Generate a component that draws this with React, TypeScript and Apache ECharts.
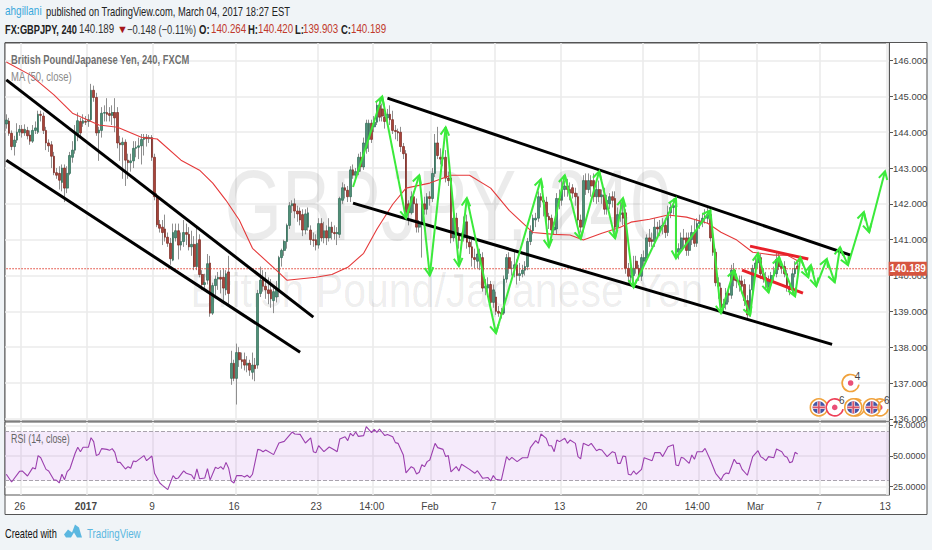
import React, { useEffect, useRef } from "react";
import * as echarts from "echarts";

const BAR_SLOTS = 334;
const tickBars = [6, 31, 56, 87, 118, 139, 161, 185, 210, 241, 262, 284, 308, 333];
const tickLabels = ["26", "2017", "9", "16", "23", "14:00", "Feb", "7", "13", "20", "14:00", "Mar", "7", "13"];
const priceTicks = [136, 137, 138, 139, 140, 141, 142, 143, 144, 145, 146];
const rsiTicks = [25, 50, 75];
const lastPrice = 140.189;

// [open, close, low, high]
const candlesDec = [
[144.23,144.34,144.1,144.5],[144.31,143.97,143.9,144.4],[143.97,143.6,143.5,144.05],[143.6,143.78,143.35,143.9],[143.78,144.0,143.7,144.25],[144.0,144.08,143.9,144.2],[144.08,143.98,143.85,144.2],[143.98,144.08,143.9,144.22],[144.05,143.9,143.8,144.15],[143.92,143.75,143.65,144.05],
[143.75,144.05,143.7,144.2],[144.05,144.12,143.95,144.3],[144.0,144.5,143.95,144.6],[144.5,144.47,144.3,144.6],[144.45,144.05,143.95,144.55],[144.05,143.7,143.5,144.15],[143.7,143.62,143.45,143.8],[143.65,143.33,143.0,143.75],[143.33,142.87,142.8,143.45],[142.87,142.8,142.7,143.0],
[142.85,142.66,142.4,143.05],[142.6,143.0,142.35,143.1],[143.0,142.44,142.05,143.1],[142.44,142.85,142.3,143.05],[142.85,143.35,142.8,143.45],[143.3,143.5,143.15,143.75],[143.5,144.0,143.4,144.2],[143.95,144.32,143.75,144.55],[144.3,143.98,143.85,144.4],[144.25,144.32,144.15,144.5],
];
const candlesJan1 = [
[144.3,144.28,144.2,144.45],[144.3,144.35,144.15,144.5],[144.35,145.17,144.3,145.35],[145.17,144.97,144.85,145.3],[144.97,143.98,143.9,145.1],[143.98,144.06,143.2,144.15],[144.05,144.53,143.85,144.7],[144.53,144.55,144.3,144.75],[144.55,144.5,144.3,144.95],[144.52,144.47,144.3,144.7],
[144.47,144.55,144.2,144.75],[144.55,144.4,144.0,144.95],[144.55,143.7,143.55,144.7],[143.7,143.65,143.2,143.9],[143.65,143.72,142.7,143.85],[143.72,143.22,142.5,143.8],[143.22,143.15,142.7,143.4],[143.15,143.2,142.9,143.4],[143.2,143.55,143.0,143.75],[143.55,143.58,143.3,143.75],
[143.58,143.62,143.25,143.85],[143.62,143.8,143.1,143.95],[143.8,143.86,143.35,143.95],[143.86,143.82,143.6,143.95],[143.82,143.85,143.7,143.92],[143.85,143.3,143.2,143.92],[143.3,142.2,142.1,143.4],[142.2,141.42,141.35,142.3],[141.42,141.32,141.2,141.55],[141.35,141.2,140.85,141.55],
];
const candlesJan2 = [
[141.3,141.07,140.95,141.7],[141.07,140.9,140.8,141.2],[140.9,140.47,140.3,141.05],[140.43,141.2,140.4,141.45],[141.05,141.25,140.95,141.45],[141.25,140.85,140.45,141.45],[140.85,140.95,140.7,141.2],[140.95,141.2,140.8,141.55],[141.2,141.15,140.85,141.45],[141.15,140.8,140.7,141.35],
[140.8,140.87,140.55,141.25],[140.87,140.25,140.15,141.1],[140.25,140.9,140.15,141.35],[141.0,140.03,139.95,141.15],[140.03,139.75,139.6,140.15],[139.75,139.8,139.6,140.05],[139.87,140.33,139.75,140.6],[140.35,138.95,138.85,140.55],[138.95,139.72,138.9,139.8],[139.72,139.9,139.45,140.0],
[139.9,139.95,139.6,140.1],[139.95,139.9,139.5,140.15],[139.95,139.65,139.3,140.2],[139.6,140.05,139.45,140.15],[140.1,139.5,139.2,140.55],
];
const candlesJan3 = [
[137.13,137.55,136.95,137.9],[137.55,137.13,137.05,137.65],[137.13,137.85,136.4,138.1],[137.85,137.65,137.45,138.0],[137.65,137.6,137.4,137.85],[137.65,137.5,137.35,137.85],[137.5,137.55,137.3,137.75],[137.55,137.36,137.2,137.65],[137.3,137.5,137.1,137.85],[137.5,137.4,137.05,137.7],
[137.5,139.5,137.4,139.6],[139.5,139.87,139.4,140.25],[139.9,139.7,139.55,140.15],[139.7,139.6,139.35,140.1],[139.6,139.5,139.2,139.95],[139.6,139.35,139.1,139.9],[139.3,139.55,138.95,139.7],[139.4,139.62,139.25,139.85],[139.6,140.5,139.4,140.55],[140.5,140.7,140.25,140.75],
[140.7,140.95,140.55,141.0],[140.95,141.4,140.75,141.45],[141.4,141.95,141.3,142.05],[141.95,142.0,141.75,142.1],[142.0,141.8,141.6,142.15],[141.8,141.72,141.5,141.95],[141.8,141.55,141.4,141.9],[141.7,141.27,141.1,141.85],[141.27,141.72,141.15,141.85],[141.35,141.75,141.25,141.9],
[141.27,141.0,140.85,141.4],[141.0,140.98,140.8,141.2],[141.0,140.85,140.7,141.15],[140.85,141.45,140.75,141.6],[141.45,141.05,140.95,141.6],[141.05,141.25,140.9,141.5],[141.25,141.05,140.85,141.4],[141.05,141.35,140.95,141.6],[141.35,141.2,141.0,141.5],[141.2,141.17,141.0,141.4],
[141.17,141.2,140.85,141.35],[141.15,142.15,141.05,142.2],
];
const candlesJan4 = [
[142.1,142.45,142.0,142.6],[142.45,142.38,142.15,142.55],[142.38,142.2,142.05,142.5],[142.2,142.95,142.05,143.05],[142.95,142.8,142.7,143.1],[142.8,142.9,142.65,143.0],[142.9,143.3,142.8,143.4],[143.3,143.03,142.9,143.45],[143.03,143.7,142.95,143.85],[143.55,144.25,143.4,144.35],
[143.8,144.25,143.45,144.35],[144.25,143.8,143.7,144.35],[144.15,144.28,144.0,144.45],[144.28,144.75,144.2,144.85],[144.75,144.42,144.3,144.95],[144.65,144.45,144.3,144.8],[144.42,144.3,144.1,144.55],[144.4,144.5,144.3,144.65],[144.5,144.35,144.2,144.75],[144.35,144.05,143.95,144.6],
[144.05,144.02,143.8,144.2],[144.02,143.98,143.75,144.1],[144.0,143.6,143.45,144.15],[143.6,143.4,143.25,143.7],[143.4,141.7,141.6,143.5],[142.0,141.75,141.4,142.1],[141.75,142.2,141.7,142.35],[142.2,142.0,141.75,142.35],[142.0,141.35,141.2,142.15],[141.35,141.45,141.2,141.55],
[141.45,142.0,140.5,142.15],[142.0,141.85,141.7,142.2],[141.85,142.2,141.7,142.3],[142.2,142.15,141.95,142.35],[142.15,142.85,142.05,143.0],
];
const candlesFeb1 = [
[142.85,143.7,142.75,143.95],[143.7,143.35,143.25,144.15],[143.3,143.25,143.1,143.55],[143.25,143.3,143.05,143.45],[143.3,142.72,142.6,143.5],[142.72,142.65,142.5,142.9],[142.72,141.05,140.9,142.85],[141.05,141.6,140.95,141.75],[141.6,141.12,141.0,141.75],[141.12,140.98,140.75,141.35],
[140.98,141.0,140.8,141.2],[141.05,141.5,140.95,141.65],[141.5,140.93,140.75,141.7],[140.93,140.8,140.6,141.1],[140.8,140.5,140.25,141.0],[140.5,140.45,140.2,140.75],[140.4,140.6,140.2,140.8],[140.45,140.6,140.15,140.75],[140.5,139.65,139.55,140.65],[139.65,139.7,139.45,139.9],
[139.65,139.75,139.4,139.95],[139.75,139.25,139.1,139.85],[139.25,139.6,139.1,139.75],[139.4,139.0,138.9,139.55],[139.0,138.95,138.85,139.15],[138.97,138.92,138.8,139.1],[138.95,139.9,138.9,140.0],[139.9,140.5,139.8,140.6],[140.5,140.2,140.05,140.65],[140.2,140.2,140.0,140.4],
[140.2,140.3,139.95,140.7],[140.3,140.0,139.75,140.45],[140.0,140.05,139.85,140.35],[140.05,140.15,139.95,140.3],[140.15,140.25,140.0,140.4],[140.25,140.95,140.15,141.05],[140.95,141.25,140.85,141.4],[141.25,141.6,141.15,141.7],[141.55,141.6,141.35,141.75],[141.6,142.2,141.5,142.35],
];
const candlesFeb2 = [
[142.2,142.1,141.9,142.3],[142.1,142.05,141.65,142.2],[142.05,141.65,141.5,142.2],[141.65,141.55,141.3,141.75],[141.6,141.27,141.1,141.7],[141.27,141.35,141.15,141.5],[141.3,142.15,141.15,142.3],[142.15,142.1,141.85,142.4],[142.1,142.4,141.95,142.7],[142.4,142.5,142.2,142.65],
[142.5,142.4,142.2,142.7],[142.4,142.3,142.1,142.6],[142.45,142.3,142.15,142.55],[142.3,142.2,141.95,142.45],[142.2,141.55,141.4,142.3],[141.55,141.35,141.2,141.7],[141.35,142.65,141.3,142.8],[142.65,142.4,142.25,142.85],[142.4,142.65,142.3,142.85],[142.65,142.5,142.2,142.8],
[142.65,142.2,142.05,142.85],[142.2,142.4,142.0,142.55],[142.4,142.2,142.05,142.65],[142.2,142.25,142.0,142.4],[142.25,141.85,141.7,142.45],[141.85,142.1,141.7,142.25],[142.0,142.2,141.85,142.3],[142.2,142.1,141.9,142.35],[142.15,141.35,141.2,142.35],[141.35,141.7,141.3,141.9],
[141.7,141.75,141.5,142.05],[141.75,141.6,141.4,142.0],[141.75,140.2,140.05,141.85],[140.2,139.98,139.8,140.35],[139.95,140.0,139.75,140.25],[140.0,140.2,139.8,140.55],[140.4,140.2,140.05,140.55],[140.2,139.98,139.85,140.3],[139.98,140.5,139.85,140.6],[140.4,140.5,140.25,140.7],
];
const candlesFeb3 = [
[140.5,141.05,140.4,141.15],[141.05,140.95,140.8,141.3],[141.0,140.95,140.8,141.2],[140.95,141.35,140.8,141.6],[141.35,141.3,141.1,141.5],[141.3,141.38,141.1,141.55],[141.38,141.4,141.15,141.6],[141.4,141.2,141.05,141.6],[141.2,141.75,141.1,141.95],[141.75,141.9,141.6,142.05],
[141.9,141.95,141.7,142.15],[141.95,140.65,140.5,142.05],[140.65,140.75,140.45,140.9],[140.75,141.05,140.65,141.2],[141.05,141.0,140.8,141.3],[141.05,140.7,140.55,141.2],[140.7,141.05,140.55,141.2],[141.0,141.2,140.85,141.4],[141.2,140.9,140.8,141.55],[140.9,141.45,140.8,141.6],
[141.45,141.5,141.3,141.7],[141.5,141.6,141.35,141.75],[141.6,141.65,141.45,141.85],[141.6,141.7,141.45,141.9],[141.7,141.05,140.95,141.85],[141.05,140.65,140.55,141.15],[140.65,139.8,139.7,140.75],[139.8,139.7,139.35,139.95],[139.65,139.1,139.0,139.8],[139.1,139.2,138.95,139.35],
];
const candlesMar = [
[139.2,139.5,139.05,139.65],[139.5,139.45,139.25,139.6],[139.45,140.15,139.35,140.3],[140.15,139.87,139.7,140.35],[139.87,139.85,139.65,140.05],[139.85,139.75,139.55,140.0],[139.85,139.7,139.5,140.0],[139.75,139.3,139.15,139.9],[139.3,138.9,138.8,139.45],[138.9,139.6,138.85,139.75],
[139.6,140.2,139.5,140.3],[140.2,140.35,140.05,140.5],[140.35,140.5,140.2,140.65],[140.5,140.05,139.9,140.6],[140.05,139.95,139.8,140.2],[139.95,139.8,139.6,140.1],[139.7,139.85,139.55,140.0],[139.8,140.0,139.7,140.1],[140.0,140.05,139.85,140.25],[140.05,140.45,139.95,140.65],
[140.45,140.25,140.15,140.6],[140.25,140.2,140.05,140.4],[140.25,140.05,139.95,140.4],[140.05,139.7,139.55,140.15],[139.7,139.6,139.45,139.8],[139.6,140.05,139.5,140.2],[140.05,140.2,139.95,140.4],[140.264,140.189,139.903,140.42],
];
const candles = [...candlesDec, ...candlesJan1, ...candlesJan2, ...candlesJan3, ...candlesJan4, ...candlesFeb1, ...candlesFeb2, ...candlesFeb3, ...candlesMar];

const maBars = [0, 9, 18, 25, 35, 42, 51, 57, 66, 73, 78, 83, 88, 93, 102, 106, 117, 123, 129, 135, 140, 146, 151, 160, 168, 175, 183, 190, 199, 207, 213, 218, 225, 232, 236, 243, 250, 257, 265, 270, 276, 282, 290, 295, 300];
const maValues = [145.96, 145.6, 145.04, 144.53, 144.2, 144.14, 143.86, 143.81, 143.22, 142.94, 142.58, 142.1, 141.55, 140.76, 140.15, 139.87, 139.95, 140.03, 140.23, 140.62, 141.29, 141.99, 142.44, 142.58, 142.8, 142.8, 142.44, 141.82, 141.2, 141.15, 141.13, 140.99, 141.18, 141.35, 141.49, 141.57, 141.69, 141.63, 141.46, 141.21, 140.99, 140.65, 140.57, 140.57, 140.37];

const rsiBars = [0,2,5,6,8,10,11,12,13,15,16,18,19,20,21,22,23,24,26,27,28,29,31,32,33,34,35,36,38,39,40,41,42,43,45,46,47,48,49,52,53,55,56,58,59,61,63,64,65,67,68,70,71,72,73,75,76,77,79,80,81,82,83,84,85,86,87,89,90,91,92,93,95,96,97,98,101,103,105,108,109,111,113,115,116,117,118,120,122,124,125,126,128,129,130,131,132,133,135,136,138,139,140,141,143,144,146,147,148,150,151,153,154,155,156,157,158,159,160,162,163,165,166,167,168,170,171,172,175,177,178,180,182,183,184,185,187,189,190,191,193,195,197,198,200,201,202,204,205,206,207,208,209,211,212,213,215,216,217,218,220,221,223,224,225,227,229,230,231,232,233,234,235,236,237,238,240,241,244,245,247,248,250,252,253,254,255,256,258,259,260,261,263,264,266,268,270,271,272,273,275,276,277,278,280,282,284,285,286,287,288,290,291,293,294,295,296,297,298,299];
const rsiValues = [35.1,28.8,37.5,37.8,33.7,40.5,39.4,50.3,48.6,39.1,37.8,30.5,30.2,28,35.1,30.7,37.2,39.4,52.2,57.1,53.5,57.1,57.1,64.9,61.7,50.3,51.4,56,55.4,54.6,56,53,44.8,44.8,39.4,41.3,40,45.9,45.4,50.3,46.2,50,35.9,28,26.1,22.6,34,31.5,32.1,37.8,35.9,34.5,31,39.4,31.5,32.1,39.7,30.5,40.8,39.7,41.3,39.1,44.8,40,29.6,28,34,34,32.9,34.3,32.4,35.1,55.4,54.9,53.5,54.9,51.1,60.6,61.9,69.5,67.9,67.6,60.6,64.7,53.5,52.7,58.4,53.5,57.3,54.9,53.5,63.8,65.7,62.5,68.5,66.3,69.5,66,66.6,73.9,69,71.7,69.3,72,66.6,67.6,65.7,60.9,60.3,50.8,36.2,41.3,40,35.3,36.7,42.9,41.3,45.4,46.7,60.3,56.8,55.4,49.5,50.3,37,41.3,37.8,43.2,39.1,35.9,38,31.8,32.4,29.6,34,31,30.2,49.5,46.7,48.9,45.4,48.6,48.6,56.8,62.5,60.3,67.9,64.4,58.4,58.4,53.5,63,61.7,64.4,60.3,63,60.3,49.5,47.6,60.3,58.4,60.3,54.3,55.4,54.9,49.5,53.5,52.7,44,44,50,49.5,35.1,34.5,37.8,35.1,39.1,48.6,46.2,52.7,52.7,49.5,57.6,59.2,42.7,42.1,48.9,48.1,44,50.8,47.3,53.5,53.5,56.2,46.7,35.9,30.5,34.5,36.2,35.6,47.3,44,44,39.1,34.3,49.5,54.3,49.5,48.1,46.2,49.5,48.6,55.7,53.5,50,48.9,44.5,45.4,53,51.6];

const trendUpperLeft = [[0, 145.46], [116, 138.84]];
const trendLowerLeft = [[0, 143.22], [111, 137.86]];
const channelUpper = [[144, 144.95], [319, 140.57]];
const channelLower = [[131, 142.02], [312, 138.08]];
const flagUpper = [[281, 140.82], [303, 140.46]];
const flagLower = [[278, 140.15], [301, 139.51]];
const lastPriceLine = [[0, lastPrice], [333, lastPrice]];

const arrowBars = [130.6,142.3,151.4,155.9,160.1,166.1,170.6,174,185.4,202,204.6,210.7,217.1,224.3,229.6,233.4,236.8,253,253.4,266.2,269.6,274.5,280.6,284,287.8,291.5,298.3,300.2,302.5,304.4,306.3,310.4,312.7,315,317.6,323.7,326,332.3];
const arrowPrices = [142.47,145,141.6,142.8,140,144.14,140.26,142.16,138.39,142.69,140.79,142.8,141.02,142.91,141.04,142.16,139.67,142.16,140.48,141.82,138.95,140.15,138.89,140.62,139.53,140.51,139.42,140.51,139.95,140.29,139.7,140.46,139.81,140.79,140.29,141.77,141.21,142.91];

const eventBars = [319, 307, 313, 321.4, 319.5, 330, 327.4, 332.3];
const eventPrices = [137.0, 136.32, 136.32, 136.32, 136.32, 136.32, 136.32, 136.32];
const eventKinds = ["newsOrange", "flag", "newsRed", "ring", "flag", "newsOrange", "flag", "edge"];
const eventCounts = ["4", "", "6", "", "", "6", "", ""];

const FONT = "'Liberation Sans', Arial, sans-serif";
const labelByBar: Record<number, string> = {};
tickBars.forEach((b, i) => { labelByBar[b] = tickLabels[i]; });
const categories = Array.from({ length: BAR_SLOTS }, (_, i) => String(i));
const isTick = (i: number) => labelByBar[i] !== undefined;

const txt = (x: number, y: number, text: string, fill: string, extra: any = {}) => ({
  type: "text", x, y, silent: true, scaleX: extra.sx ?? 0.76,
  style: { text, fill, font: `${extra.bold ? "bold " : ""}${extra.size || 12.5}px ${FONT}`, verticalAlign: "middle", align: "left", opacity: extra.opacity ?? 1 },
  z: extra.z ?? 10,
});

function trend(data: number[][], color: string) {
  return { type: "line", xAxisIndex: 0, yAxisIndex: 0, data, showSymbol: false, symbol: "none", silent: true, z: 6, lineStyle: { color, width: 3 } };
}

function arrowItem(params: any, api: any) {
  const k = params.dataIndex;
  if (k === 0) return null;
  const a = api.coord([arrowBars[k - 1], arrowPrices[k - 1]]);
  const b = api.coord([arrowBars[k], arrowPrices[k]]);
  const ang = Math.atan2(a[1] - b[1], a[0] - b[0]);
  const len = 9, spread = 0.5;
  const h1 = [b[0] + len * Math.cos(ang + spread), b[1] + len * Math.sin(ang + spread)];
  const h2 = [b[0] + len * Math.cos(ang - spread), b[1] + len * Math.sin(ang - spread)];
  const style = { stroke: "#3bea3b", lineWidth: 2, fill: "none" };
  return {
    type: "group",
    children: [
      { type: "line", shape: { x1: a[0], y1: a[1], x2: b[0], y2: b[1] }, style },
      { type: "polyline", shape: { points: [h1, b, h2] }, style },
    ],
  };
}

function eventItem(params: any, api: any) {
  const k = params.dataIndex;
  const c = api.coord([eventBars[k], eventPrices[k]]);
  const kind = eventKinds[k];
  const kids: any[] = [];
  const ring = (color: string) => ({ type: "arc", shape: { cx: c[0], cy: c[1], r: 8.5, startAngle: 0.2, endAngle: 5.4 }, style: { stroke: color, lineWidth: 1.6, fill: "none" } });
  if (kind === "edge") {
    kids.push({ type: "arc", shape: { cx: c[0], cy: c[1], r: 7, startAngle: 2.4, endAngle: 4.4 }, style: { stroke: "#f0a23c", lineWidth: 1.5, fill: "none" } });
  } else if (kind === "ring") {
    kids.push(ring("#f0a23c"));
  } else if (kind === "flag") {
    kids.push({ type: "circle", shape: { cx: c[0], cy: c[1], r: 8.5 }, style: { fill: "#fff", stroke: "#f0a23c", lineWidth: 1.6 } });
    kids.push({ type: "circle", shape: { cx: c[0], cy: c[1], r: 6.2 }, style: { fill: "#4456a6" } });
    kids.push({ type: "line", shape: { x1: c[0] - 6, y1: c[1], x2: c[0] + 6, y2: c[1] }, style: { stroke: "#f3d5da", lineWidth: 3.2 } });
    kids.push({ type: "line", shape: { x1: c[0], y1: c[1] - 6, x2: c[0], y2: c[1] + 6 }, style: { stroke: "#f3d5da", lineWidth: 3.2 } });
    kids.push({ type: "line", shape: { x1: c[0] - 6, y1: c[1], x2: c[0] + 6, y2: c[1] }, style: { stroke: "#d8546a", lineWidth: 1.6 } });
    kids.push({ type: "line", shape: { x1: c[0], y1: c[1] - 6, x2: c[0], y2: c[1] + 6 }, style: { stroke: "#d8546a", lineWidth: 1.6 } });
  } else {
    kids.push({ type: "circle", shape: { cx: c[0], cy: c[1], r: 8 }, style: { fill: "#fff" } });
    kids.push(ring(kind === "newsRed" ? "#ee4058" : "#f0a23c"));
    kids.push({ type: "circle", shape: { cx: c[0], cy: c[1], r: 2.8 }, style: { fill: "#ea4f78" } });
  }
  if (eventCounts[k]) {
    kids.push({ type: "text", style: { x: c[0] + 7, y: c[1] - 7, text: eventCounts[k], fill: "#444", font: `10px ${FONT}`, align: "center", verticalAlign: "middle" } });
  }
  return { type: "group", children: kids };
}

export default function App() {
  const ref = useRef<HTMLDivElement>(null);
  useEffect(() => {
    document.body.style.margin = "0";
    document.body.style.background = "#f0f4f7";
    echarts.graphic.registerShape("tvLogo", echarts.graphic.extendPath(
      "M0 10 L4 5 L8 8 L11 0 L15 3 L17 10 L18 13 L13 13 L10 8 L7 13 L2 13 Z", {}));
    const chart = echarts.init(ref.current!, undefined, { renderer: "svg", width: 932, height: 550 });
    const grid1 = { left: 5, top: 43, width: 884, height: 378, show: true, backgroundColor: "#ffffff", borderColor: "#555", borderWidth: 1 };
    const grid2 = { left: 5, top: 422, width: 884, height: 73, show: true, backgroundColor: "#ffffff", borderColor: "#555", borderWidth: 1 };
    const xBase = {
      type: "category", data: categories, boundaryGap: true,
      axisLine: { show: false },
      splitLine: { show: true, interval: (i: number) => isTick(i), lineStyle: { color: "#ebebeb", width: 1.6 } },
    };
    const option: any = {
      animation: false,
      backgroundColor: "#f0f4f7",
      grid: [grid1, grid2],
      xAxis: [
        { ...xBase, gridIndex: 0, axisTick: { show: false }, axisLabel: { show: false } },
        { ...xBase, gridIndex: 1, axisTick: { show: false },
          axisLabel: { show: true, interval: (i: number) => isTick(i),
            formatter: (_v: string, i: number) => labelByBar[i] === "2017" ? "{y|2017}" : (labelByBar[i] ?? ""),
            rich: { y: { fontWeight: "bold", fontSize: 10, color: "#444", fontFamily: FONT } },
            color: "#444", fontSize: 10, fontFamily: FONT, margin: 6, padding: [0, 5, 0, 0] } },
      ],
      yAxis: [
        { type: "value", gridIndex: 0, position: "right", min: 135.94, max: 146.49, scale: true,
          axisLine: { show: true, lineStyle: { color: "#555" } },
          axisTick: { show: true, length: 4, lineStyle: { color: "#555" }, customValues: priceTicks },
          axisLabel: { color: "#444", fontSize: 9.5, fontFamily: FONT, margin: 4, customValues: priceTicks, formatter: (v: number) => v.toFixed(3), showMinLabel: true, showMaxLabel: true },
          splitLine: { show: true, lineStyle: { color: "#ebebeb", width: 1.6 } } },
        { type: "value", gridIndex: 1, position: "right", min: 18.2, max: 77.7,
          axisLine: { show: true, lineStyle: { color: "#555" } },
          axisTick: { show: true, length: 4, lineStyle: { color: "#555" }, customValues: rsiTicks },
          axisLabel: { color: "#444", fontSize: 9, fontFamily: FONT, margin: 4, customValues: rsiTicks, formatter: (v: number) => v.toFixed(4), showMinLabel: true, showMaxLabel: true },
          splitLine: { show: true, lineStyle: { color: "#ebebeb", width: 1.6 } } },
      ],
      series: [
        { type: "line", name: "MA (50, close)", xAxisIndex: 0, yAxisIndex: 0, data: maBars.map((b, i) => [b, maValues[i]]), showSymbol: false, symbol: "none", silent: true, z: 4, lineStyle: { color: "#e5393a", width: 1.1 } },
        { type: "candlestick", name: "wicks", xAxisIndex: 0, yAxisIndex: 0, data: candles, barWidth: 1, z: 2, silent: true,
          itemStyle: { color: "#8f8f8f", color0: "#8f8f8f", borderColor: "#8f8f8f", borderColor0: "#8f8f8f", borderWidth: 1 } },
        { type: "candlestick", name: "FX:GBPJPY", xAxisIndex: 0, yAxisIndex: 0, data: candles.map(([o, c]) => [o, c, Math.min(o, c), Math.max(o, c)]), barWidth: 2.2, z: 3, silent: true,
          itemStyle: { color: "#4f8f76", color0: "#a8443a", borderColor: "#2f6b58", borderColor0: "#7d2a22", borderWidth: 0.7 } },
        { type: "line", name: "last price", xAxisIndex: 0, yAxisIndex: 0, data: lastPriceLine, showSymbol: false, symbol: "none", silent: true, z: 5,
          lineStyle: { color: "#e0392b", width: 1, type: [1.5, 1.5] },
          endLabel: { show: true, distance: 1, formatter: lastPrice.toFixed(3), color: "#fff", fontWeight: "bold", fontSize: 10, fontFamily: FONT, backgroundColor: "#d6553f", padding: [2, 1, 2, 1] } },
        trend(trendUpperLeft, "#000"), trend(trendLowerLeft, "#000"), trend(channelUpper, "#000"), trend(channelLower, "#000"),
        trend(flagUpper, "#e8202a"), trend(flagLower, "#e8202a"),
        { type: "custom", name: "arrows", xAxisIndex: 0, yAxisIndex: 0, z: 7, silent: true, clip: false, renderItem: arrowItem, data: arrowBars.map((_, k) => [Math.round(arrowBars[k]), arrowPrices[k]]), encode: { x: 0, y: 1 } },
        { type: "custom", name: "events", xAxisIndex: 0, yAxisIndex: 0, z: 8, silent: true, clip: false, renderItem: eventItem, data: eventBars.map((_, k) => [Math.round(eventBars[k]), eventPrices[k]]), encode: { x: 0, y: 1 } },
        { type: "line", name: "RSI (14, close)", xAxisIndex: 1, yAxisIndex: 1, data: rsiBars.map((b, i) => [b, rsiValues[i]]), showSymbol: false, symbol: "none", silent: true, z: 5, lineStyle: { color: "#9b3fae", width: 1.1 },
          markArea: { silent: true, itemStyle: { color: "rgba(176,90,224,0.13)" }, data: [[{ yAxis: 70 }, { yAxis: 30 }]] },
          markLine: { silent: true, symbol: "none", label: { show: false }, lineStyle: { color: "#a9a3ad", type: "dashed", width: 1 }, data: [{ yAxis: 70 }, { yAxis: 30 }] } },
      ],
      graphic: [
        { type: "rect", silent: true, z: -1, shape: { x: 5, y: 42.5, width: 922, height: 472 }, style: { fill: "#fff", stroke: "#555", lineWidth: 1 } },
        { type: "text", silent: true, z: 1, x: 448, y: 205, scaleX: 0.74, style: { text: "GBPJPY, 240", fill: "rgba(0,0,0,0.08)", font: `100px ${FONT}`, align: "center", verticalAlign: "middle" } },
        { type: "text", silent: true, z: 1, x: 447, y: 290, scaleX: 0.855, style: { text: "British Pound/Japanese Yen", fill: "rgba(0,0,0,0.08)", font: `48px ${FONT}`, align: "center", verticalAlign: "middle" } },
        txt(5, 11, "ahgillani", "#3aa8dc", { sx: 0.8 }),
        txt(46, 11, "published on TradingView.com, March 04, 2017 18:27 EST", "#222", { sx: 0.75 }),
        txt(5, 29, "FX:GBPJPY, 240", "#222", { bold: true, sx: 0.74 }),
        txt(79, 29, "140.189", "#333", { sx: 0.78 }),
        txt(117, 29, "▼", "#a5161a", { size: 11, sx: 1 }),
        txt(127, 29, "−0.148 (−0.11%)", "#333", { sx: 0.75 }),
        txt(199, 29, "O:", "#222", { bold: true }),
        txt(211, 29, "140.264", "#c0392b", { sx: 0.78 }),
        txt(248, 29, "H:", "#222", { bold: true }),
        txt(258, 29, "140.420", "#c0392b", { sx: 0.78 }),
        txt(295, 29, "L:", "#222", { bold: true }),
        txt(303, 29, "139.903", "#c0392b", { sx: 0.78 }),
        txt(341, 29, "C:", "#222", { bold: true }),
        txt(351, 29, "140.189", "#c0392b", { sx: 0.78 }),
        txt(11, 59, "British Pound/Japanese Yen, 240, FXCM", "#555", { bold: true, opacity: 0.85, sx: 0.75 }),
        txt(11, 76, "MA (50, close)", "#8a8a8a"),
        txt(11, 438, "RSI (14, close)", "#666", { sx: 0.71 }),
        txt(5, 533, "Created with", "#111", { size: 13, sx: 0.71 }),
        { type: "tvLogo", x: 64, y: 524.5, silent: true, style: { fill: "#5bb7e0" }, z: 10 },
        txt(87, 533, "TradingView", "#5bb7e0", { size: 13, sx: 0.75 }),
      ],
    };
    chart.setOption(option);
    return () => chart.dispose();
  }, []);
  return <div ref={ref} style={{ width: 932, height: 550 }} />;
}
